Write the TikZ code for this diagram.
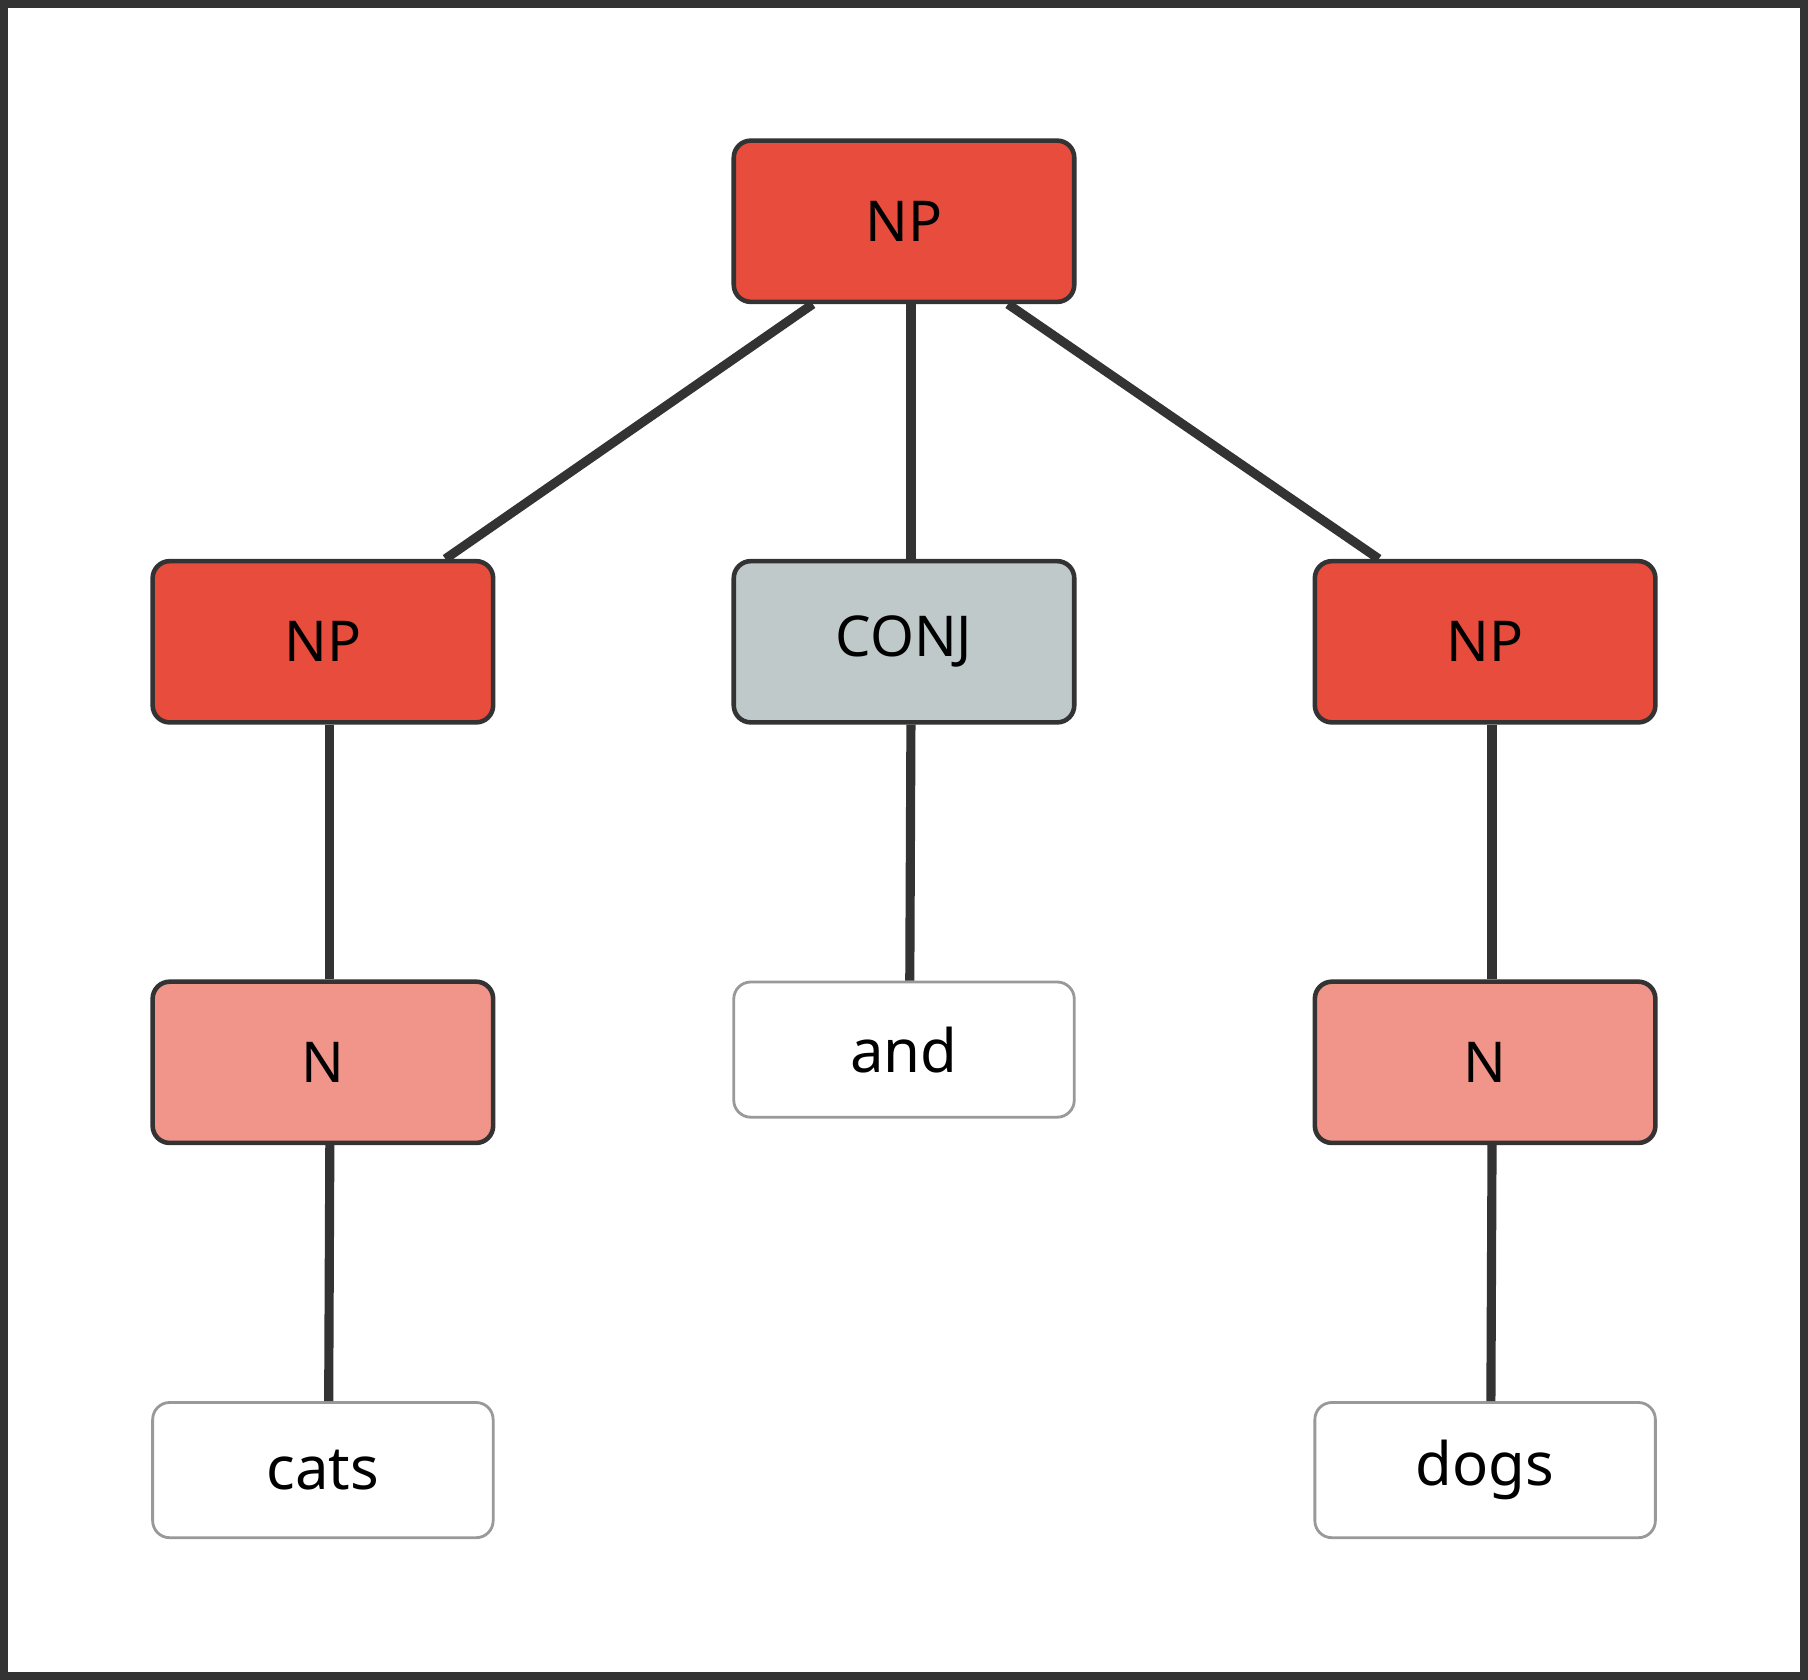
\documentclass[tikz,border=0pt]{standalone}
\usepackage{fontspec}
\setmainfont{Noto Sans}
\usetikzlibrary{positioning, calc}
\definecolor{phrase}{HTML}{E74C3C}
\definecolor{word}{HTML}{F1948A}
\definecolor{conjcol}{HTML}{BFC9CA}
\definecolor{edge}{HTML}{333333}
\definecolor{leafline}{HTML}{999999}

\begin{document}
\begin{tikzpicture}[x=0.01153cm, y=-0.01153cm,
    cat/.style={draw=edge, line width=1.3pt, rounded corners=0.17cm,
        minimum width=3.40cm, minimum height=1.61cm, font=\fontsize{16}{19}\selectfont\bfseries},
    leaf/.style={draw=leafline, fill=white, line width=0.8pt, rounded corners=0.17cm,
        minimum width=3.40cm, minimum height=1.35cm, font=\fontsize{17}{20}\selectfont},
    branch/.style={draw=edge, line width=2.6pt}]

    % frame
    \draw[edge, line width=2.3pt, fill=white] (5,5) rectangle (1563,1452);

    % categories
    \node[cat, fill=phrase] (np0) at (784,193) {NP};
    \node[cat, fill=phrase] (np1) at (281,557) {NP};
    \node[cat, fill=conjcol] (conj) at (784,557) {CONJ};
    \node[cat, fill=phrase] (np2) at (1287,557) {NP};
    \node[cat, fill=word] (n1) at (281,921) {N};
    \node[cat, fill=word] (n2) at (1287,921) {N};

    % words
    \node[leaf] (and) at (784,910) {and};
    \node[leaf] (cats) at (281,1274) {cats};
    \node[leaf] (dogs) at (1287,1274) {dogs};

    % branches
    \draw[branch] ($(np0.south)+(-79,0)$) -- ($(np1.north)+(106,0)$);
    \draw[branch] ($(np0.south)+(6,0)$) -- ($(conj.north)+(6,0)$);
    \draw[branch] ($(np0.south)+(90,0)$) -- ($(np2.north)+(-92,0)$);
    \draw[branch] ($(np1.south)+(6,0)$) -- ($(n1.north)+(6,0)$);
    \draw[branch] ($(n1.south)+(6,0)$) -- ($(cats.north)+(5,0)$);
    \draw[branch] ($(conj.south)+(6,0)$) -- ($(and.north)+(5,0)$);
    \draw[branch] ($(np2.south)+(6,0)$) -- ($(n2.north)+(6,0)$);
    \draw[branch] ($(n2.south)+(6,0)$) -- ($(dogs.north)+(5,0)$);

\end{tikzpicture}
\end{document}
